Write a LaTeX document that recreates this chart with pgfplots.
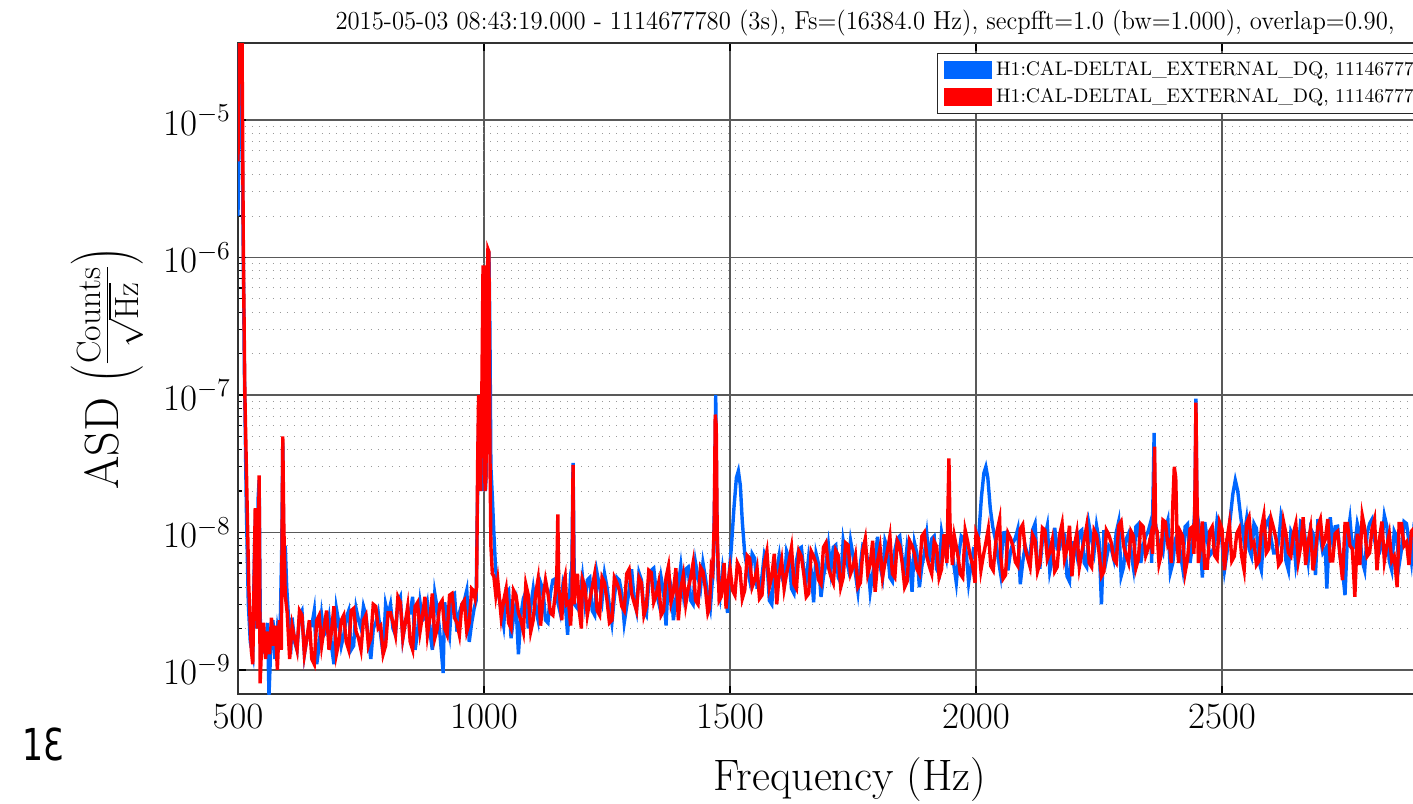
\RequirePackage{fix-cm}
\documentclass[border=0pt]{standalone}
\usepackage{fontspec}
\usepackage{graphicx}
\usepackage{pgfplots}
\pgfplotsset{compat=1.18}
\newfontfamily\djv{DejaVu Sans}
\definecolor{asdblue}{RGB}{0,102,255}
\definecolor{asdred}{RGB}{255,0,0}

\begin{document}
\begin{tikzpicture}
% the reference is a crop of a wider figure: cut the picture to its frame
\path[use as bounding box, clip] (-119pt,-54.5pt) rectangle (587.5pt,347pt);
\begin{axis}[
    scale only axis,
    width=615pt, height=325.5pt,
    xmin=500, xmax=3000,
    ymode=log, ymin=6.68e-10, ymax=3.63e-5,
    xtick={500,1000,...,3000},
    ytick={1e-9,1e-8,1e-7,1e-6,1e-5},
    /pgf/number format/1000 sep={},
    scaled x ticks=false,
    grid=both,
    major grid style={black!65, line width=0.6pt},
    minor grid style={gray!80, line width=0.5pt, dash pattern=on 0.5pt off 3pt},
    axis line style={black!80, line width=0.9pt},
    major tick length=4pt, minor tick length=2pt,
    tick style={black, line width=0.6pt},
    tick label style={font=\fontsize{18.5}{22}\selectfont},
    xticklabel style={yshift=-2pt},
    title={\resizebox{529.5pt}{\height}{2015-05-03 08:43:19.000 - 1114677780 (3s), Fs=(16384.0 Hz), secpfft=1.0 (bw=1.000), overlap=0.90,}},
    title style={at={(axis description cs:0.5098,1.0215)}, anchor=base, yshift=-6pt,
        inner sep=0pt, font=\fontsize{13}{15}\selectfont},
    xlabel={Frequency (Hz)},
    ylabel={ASD $\left(\frac{\mathrm{Counts}}{\sqrt{\mathrm{Hz}}}\right)$},
    xlabel style={at={(axis description cs:0.4976,-0.1475)}, anchor=base,
        font=\fontsize{22}{26}\selectfont},
    ylabel style={at={(axis description cs:-0.1065,0.5)}, anchor=center,
        font=\fontsize{24}{28}\selectfont},
    legend style={at={(axis description cs:0.5683,0.9846)}, anchor=north west,
        draw=black!85, line width=0.6pt, fill=white,
        font=\fontsize{9.8}{11}\selectfont,
        inner xsep=3pt, inner ysep=2pt, row sep=1pt},
    legend cell align=left,
    legend image code/.code={\fill (0pt,-3.75pt) rectangle (22.5pt,3.75pt);},
]
\addplot[color=asdblue, line width=1.7pt] coordinates {
(500,2e-6)(503,4e-5)(507,4e-5)(510,2e-6)(513,1.5e-7)(517,1.5e-8)(521,3e-9)(525,1.6e-9)
(530,1.3e-9)(534,9e-9)(536,1.4e-8)(538,2e-9)(541,1.8e-8)(543,2.4e-8)(546,1.2e-9)(550,1.9e-9)
(555,1.3e-9)(560,2.2e-9)(563,6.5e-10)(567,1.6e-9)(571,2.3e-9)(575,1.2e-9)(580,2.0e-9)(585,1.5e-9)
(589,8e-9)(591,4.5e-8)(593,6e-9)(596,8e-9)(599,4e-9)(603,2.3e-9)(607,1.3e-9)
(610,2.4e-9)(615,1.6e-9)(620,1.4e-9)(625,2.5e-9)(630,2.7e-9)(635,1.3e-9)(640,1.7e-9)(645,2.1e-9)(650,2.1e-9)(655,2.7e-9)
(660,1.1e-9)(665,1.5e-9)(670,2.5e-9)(675,1.8e-9)(680,1.9e-9)(685,2.4e-9)(690,1.5e-9)(695,1.1e-9)(700,2.8e-9)(705,2.2e-9)
(710,1.5e-9)(715,1.8e-9)(720,2.4e-9)(725,2.7e-9)(730,1.4e-9)(735,1.5e-9)(740,2.8e-9)(745,2.3e-9)(750,2.0e-9)(755,2.9e-9)
(760,2.5e-9)(765,1.7e-9)(770,1.2e-9)(775,2.0e-9)(780,2.2e-9)(785,2.6e-9)(790,1.8e-9)(795,1.3e-9)(800,3.0e-9)
(805,2.5e-9)(810,3.0e-9)(815,2.0e-9)(820,1.8e-9)(825,3.1e-9)(830,3.4e-9)(835,1.7e-9)(840,2.2e-9)(845,2.6e-9)(850,2.6e-9)
(855,3.4e-9)(860,1.4e-9)(865,1.9e-9)(870,3.1e-9)(875,2.3e-9)(880,2.4e-9)(885,3.0e-9)(890,1.9e-9)(895,1.4e-9)(900,3.6e-9)
(905,2.8e-9)(910,1.9e-9)(917,9.5e-10)(920,3.1e-9)(925,2.3e-9)(930,1.8e-9)(935,3.5e-9)(940,3.6e-9)(945,1.9e-9)(950,2.6e-9)
(955,3.0e-9)(960,3.2e-9)(965,3.8e-9)(970,1.6e-9)(975,2.2e-9)(980,2.8e-9)
(984,3.2e-9)(987,2e-8)(990,1e-7)(993,3e-8)(996,2e-8)(999,6e-7)(1001,8e-7)(1003,2e-8)(1005,3e-8)(1008,8e-7)
(1010,1.1e-6)(1012,3e-7)(1014,3e-8)(1017,1.8e-8)(1020,1e-8)(1023,6e-9)(1026,4.2e-9)
(1030,3.5e-9)(1035,2.7e-9)(1040,2.1e-9)(1045,3.6e-9)(1050,3.8e-9)(1055,1.7e-9)(1060,2.4e-9)(1065,3.0e-9)(1070,1.3e-9)(1075,2.5e-9)
(1080,3.3e-9)(1085,3.7e-9)(1090,2.0e-9)(1095,2.9e-9)(1100,3.9e-9)
(1105,2.8e-9)(1110,2.3e-9)(1115,4.3e-9)(1120,3.8e-9)(1125,2.3e-9)(1130,2.2e-9)(1135,3.6e-9)(1140,4.5e-9)(1145,4.6e-9)(1150,3.1e-9)
(1155,2.6e-9)(1160,4.0e-9)(1165,3.1e-9)(1170,1.8e-9)(1175,4.1e-9)(1178,3.5e-9)(1181,3.2e-8)(1184,3.0e-9)(1190,2.8e-9)(1195,3.5e-9)(1200,4.8e-9)
(1205,3.1e-9)(1210,4.5e-9)(1215,4.7e-9)(1220,2.7e-9)(1225,2.5e-9)(1230,5.0e-9)(1235,4.0e-9)(1240,3.2e-9)(1245,5.0e-9)(1250,4.0e-9)
(1255,2.9e-9)(1260,2.2e-9)(1265,3.4e-9)(1270,4.7e-9)(1275,4.5e-9)(1280,3.6e-9)(1285,2.2e-9)(1290,2.9e-9)(1295,3.8e-9)(1300,5.4e-9)
(1305,3.3e-9)(1310,2.7e-9)(1315,5.1e-9)(1320,4.5e-9)(1325,2.7e-9)(1330,2.5e-9)(1335,4.3e-9)(1340,5.3e-9)(1345,5.5e-9)(1350,3.7e-9)
(1355,3.1e-9)(1360,4.7e-9)(1365,3.7e-9)(1370,2.1e-9)(1375,4.9e-9)(1380,4.1e-9)(1385,2.3e-9)(1390,3.3e-9)(1395,4.1e-9)(1400,5.7e-9)
(1405,3.7e-9)(1410,5.4e-9)(1415,5.6e-9)(1420,3.2e-9)(1425,3.0e-9)(1430,6.0e-9)(1435,4.7e-9)(1440,3.9e-9)(1445,6.0e-9)(1450,4.7e-9)
(1455,3.4e-9)(1460,2.8e-9)(1466,5.5e-9)(1469,2.2e-8)(1471,1e-7)(1473,1.5e-8)(1476,4.5e-9)(1480,3.5e-9)(1485,5.4e-9)(1490,4.0e-9)
(1495,2.6e-9)(1498,4.8e-9)
(1503,8e-9)(1508,1.5e-8)(1513,2.5e-8)(1517,2.8e-8)(1521,2.2e-8)(1525,1.2e-8)(1530,7e-9)(1535,5.5e-9)(1540,4.5e-9)(1545,7.0e-9)
(1550,6.5e-9)(1555,4.0e-9)(1560,4.0e-9)(1565,4.8e-9)(1570,7.0e-9)(1575,6.3e-9)(1580,3.2e-9)(1585,3.0e-9)(1590,5.5e-9)(1595,5.3e-9)(1600,6.8e-9)
(1605,4.8e-9)(1610,4.2e-9)(1615,7.3e-9)(1620,6.5e-9)(1625,3.9e-9)(1630,3.6e-9)(1635,6.2e-9)(1640,7.6e-9)(1645,7.8e-9)(1650,5.3e-9)
(1655,4.5e-9)(1660,6.7e-9)(1665,5.3e-9)(1670,3.1e-9)(1675,7.0e-9)(1680,5.9e-9)(1685,3.4e-9)(1690,4.8e-9)(1695,5.9e-9)(1700,8.1e-9)
(1705,5.3e-9)(1710,7.8e-9)(1715,8.1e-9)(1720,4.7e-9)(1725,4.3e-9)(1730,8.7e-9)(1735,6.8e-9)(1740,5.6e-9)(1745,8.7e-9)(1750,6.8e-9)
(1755,5.0e-9)(1760,3.7e-9)(1765,5.9e-9)(1770,8.1e-9)(1775,7.8e-9)(1780,6.2e-9)(1785,3.7e-9)(1790,5.0e-9)(1795,6.5e-9)(1800,9.3e-9)
(1805,5.7e-9)(1810,4.7e-9)(1815,8.7e-9)(1820,7.7e-9)(1825,4.7e-9)(1830,4.4e-9)(1835,7.4e-9)(1840,9.0e-9)(1845,9.4e-9)(1850,6.4e-9)
(1855,5.4e-9)(1860,8.0e-9)(1865,6.4e-9)(1870,3.7e-9)(1875,8.4e-9)(1880,7.0e-9)(1885,4.0e-9)(1890,5.7e-9)(1895,7.0e-9)(1900,9.7e-9)
(1905,6.1e-9)(1910,9.0e-9)(1915,9.4e-9)(1920,5.4e-9)(1925,5.0e-9)(1930,1.0e-8)(1935,7.9e-9)(1940,6.5e-9)(1945,1.0e-8)(1950,7.9e-9)
(1955,5.8e-9)(1960,4.3e-9)(1965,6.8e-9)(1970,9.4e-9)(1975,9.0e-9)(1980,7.2e-9)(1985,4.3e-9)(1990,5.8e-9)(1995,7.6e-9)(2000,7.5e-9)
(2006,1.0e-8)(2011,1.8e-8)(2016,2.7e-8)(2020,3.0e-8)(2024,2.5e-8)(2029,1.5e-8)(2034,1.1e-8)(2040,8.7e-9)(2045,6.5e-9)(2050,5.0e-9)
(2055,9.9e-9)(2060,1.0e-8)(2065,5.3e-9)(2070,7.2e-9)(2075,8.4e-9)(2080,9.1e-9)(2085,1.06e-8)(2090,4.2e-9)(2095,6.1e-9)(2100,8.0e-9)
(2105,6.8e-9)(2110,6.8e-9)(2115,1.04e-8)(2120,1.16e-8)(2125,5.6e-9)(2130,5.6e-9)(2135,8.8e-9)(2140,9.2e-9)(2145,1.12e-8)(2150,5.2e-9)
(2155,6.4e-9)(2160,1.08e-8)(2165,7.6e-9)(2170,7.6e-9)(2175,1.0e-8)(2180,9.6e-9)(2185,4.8e-9)(2190,4.4e-9)(2195,8.4e-9)(2200,8.4e-9)
(2205,6.8e-9)(2210,1.0e-8)(2215,1.04e-8)(2220,6.0e-9)(2225,5.6e-9)(2230,1.12e-8)(2235,8.8e-9)(2240,7.2e-9)(2245,1.12e-8)(2250,8.8e-9)
(2255,3.0e-9)(2260,1.04e-8)(2265,6.4e-9)(2270,8.0e-9)(2275,7.6e-9)(2280,6.4e-9)(2285,1.0e-8)(2290,1.2e-8)(2295,4.8e-9)(2300,5.6e-9)
(2305,8.9e-9)(2310,9.8e-9)(2315,7.2e-9)(2320,5.5e-9)(2325,1.1e-8)(2330,1.15e-8)(2335,6.0e-9)(2340,8.1e-9)(2345,9.4e-9)(2350,1.02e-8)
(2355,1.19e-8)(2357,6e-9)(2360,2.0e-8)(2362,5.3e-8)(2364,1.2e-8)(2370,8.9e-9)(2375,8.1e-9)(2380,7.2e-9)(2385,1.06e-8)(2390,1.23e-8)
(2395,5.1e-9)(2400,6.0e-9)
(2405,8.9e-9)(2410,9.8e-9)(2415,7.2e-9)(2420,5.5e-9)(2425,1.1e-8)(2430,1.15e-8)(2435,6.0e-9)(2440,8.1e-9)(2445,1.5e-8)(2447,9.4e-8)
(2449,1.4e-8)(2455,1.02e-8)(2460,4.7e-9)(2465,1.19e-8)(2470,8.9e-9)(2475,6.8e-9)(2480,7.2e-9)(2485,8.1e-9)(2490,1.23e-8)(2495,1.06e-8)(2500,8.5e-9)
(2505,5.3e-9)(2510,7.0e-9)(2516,1.2e-8)(2522,1.9e-8)(2527,2.4e-8)(2532,2.0e-8)(2538,1.3e-8)(2544,9e-9)
(2550,1.25e-8)(2555,7.6e-9)(2560,6.7e-9)(2565,1.16e-8)(2570,1.07e-8)(2575,6.2e-9)(2580,5.3e-9)(2585,9.8e-9)(2590,1.16e-8)(2595,1.25e-8)(2600,8.9e-9)
(2605,7.1e-9)(2610,7.1e-9)(2615,8.5e-9)(2620,1.33e-8)(2625,1.11e-8)(2630,6.2e-9)(2635,5.3e-9)(2640,1.02e-8)(2645,9.3e-9)(2650,5.8e-9)
(2655,7.6e-9)(2660,1.2e-8)(2665,1.16e-8)(2670,8.5e-9)(2675,6.2e-9)(2680,1.07e-8)(2685,9.8e-9)(2690,4.9e-9)(2695,1.25e-8)(2700,9.3e-9)
(2705,7.1e-9)(2710,7.6e-9)(2713,3.9e-9)(2720,1.29e-8)(2725,8.5e-9)(2730,1.1e-8)(2735,1.11e-8)(2740,6.7e-9)(2745,5.3e-9)(2750,3.5e-9)
(2755,9.3e-9)(2760,1.25e-8)(2765,7.6e-9)(2770,8.0e-9)(2775,1.16e-8)(2780,9.8e-9)(2785,6.2e-9)(2790,5.3e-9)(2795,9.8e-9)(2800,1.16e-8)
(2805,1.25e-8)(2810,8.9e-9)(2815,7.1e-9)(2820,7.1e-9)(2825,8.5e-9)(2830,1.33e-8)(2835,1.11e-8)(2840,6.2e-9)(2845,5.3e-9)(2850,1.02e-8)
(2855,9.3e-9)(2860,5.8e-9)(2865,7.6e-9)(2870,1.2e-8)(2875,1.16e-8)(2880,8.5e-9)(2885,6.2e-9)(2890,1.07e-8)(2895,9.8e-9)(2900,8e-9)
};
\addlegendentry{H1:CAL-DELTAL\_EXTERNAL\_DQ, 1114677780}
\addplot[color=asdred, line width=1.7pt] coordinates {
(500,5e-6)(502,5e-5)(508,5e-5)(511,1e-6)(514,1e-7)(518,2e-8)(522,4e-9)(527,1.4e-9)
(530,1.1e-9)(533,5e-9)(535,1.5e-8)(537,3e-9)(540,2e-9)(543,2.6e-8)(545,8e-10)(548,1.5e-9)
(552,2.2e-9)(556,1.2e-9)(560,1.9e-9)(564,1.3e-9)(568,2.4e-9)(572,1.5e-9)(576,2.1e-9)(580,1.0e-9)
(584,2.3e-9)(588,1.4e-9)(590,1.5e-8)(591,5e-8)(593,1.2e-8)(596,3.5e-9)(600,2.6e-9)
(605,1.2e-9)(610,2.1e-9)(615,1.7e-9)(620,1.4e-9)(625,2.7e-9)(630,2.5e-9)(635,1.3e-9)(640,1.7e-9)(645,2.3e-9)(650,1.2e-9)
(655,1.1e-9)(660,2.3e-9)(665,2.5e-9)(670,1.5e-9)(675,2.0e-9)(680,2.7e-9)(685,1.4e-9)(690,1.9e-9)(695,2.9e-9)(700,1.3e-9)(705,1.6e-9)
(710,2.3e-9)(715,2.5e-9)(720,1.6e-9)(725,1.4e-9)(730,2.7e-9)(735,2.8e-9)(740,1.9e-9)(745,1.7e-9)(750,1.4e-9)(755,2.3e-9)
(760,2.5e-9)(765,1.5e-9)(770,1.7e-9)(775,3.0e-9)(780,2.9e-9)(785,2.0e-9)(790,2.1e-9)(795,1.3e-9)(800,1.5e-9)(805,2.6e-9)
(810,2.6e-9)(815,2.2e-9)(820,1.8e-9)(825,3.4e-9)(830,3.1e-9)(835,1.7e-9)(840,2.2e-9)(845,2.9e-9)(850,1.6e-9)(855,1.4e-9)
(860,2.9e-9)(865,3.1e-9)(870,1.9e-9)(875,2.5e-9)(880,3.4e-9)(885,1.8e-9)(890,2.4e-9)(895,3.6e-9)(900,1.7e-9)(905,2.0e-9)
(910,3.0e-9)(915,3.2e-9)(920,2.0e-9)(925,1.8e-9)(930,3.5e-9)(935,3.6e-9)(940,2.4e-9)(945,2.2e-9)(950,1.8e-9)(955,3.0e-9)
(960,3.2e-9)(965,1.9e-9)(970,2.2e-9)(975,3.9e-9)(978,3.8e-9)(982,3.3e-9)
(985,4e-9)(987,3e-8)(989,1e-7)(991,9e-8)(993,2e-8)(995,6e-8)(998,8.5e-7)(1000,8.5e-7)(1002,2e-8)(1004,2.5e-8)
(1006,5e-7)(1008,1.15e-6)(1010,1.1e-6)(1012,4e-8)(1014,8e-9)(1017,5e-9)(1020,4.8e-9)(1024,3.5e-9)
(1028,4.5e-9)(1035,2.4e-9)(1040,3.2e-9)(1045,3.9e-9)(1050,2.2e-9)(1055,2.0e-9)(1060,3.8e-9)(1065,3.5e-9)(1070,2.6e-9)(1075,2.3e-9)
(1080,1.9e-9)(1085,4.2e-9)(1090,3.5e-9)(1095,1.9e-9)(1100,2.3e-9)(1105,3.6e-9)
(1110,4.6e-9)(1115,2.1e-9)(1120,3.3e-9)(1125,4.5e-9)(1130,3.6e-9)(1135,2.6e-9)(1140,2.5e-9)(1145,3.6e-9)(1148,5e-9)(1150,1.35e-8)
(1152,4e-9)(1158,2.3e-9)(1162,4.3e-9)(1165,4.8e-9)(1168,3.0e-9)(1172,3.1e-9)(1176,2.1e-9)(1179,3.5e-9)(1181,3.1e-8)(1183,3.0e-9)
(1186,4.0e-9)(1190,5.0e-9)(1194,2.6e-9)(1198,2.0e-9)(1200,4.6e-9)(1205,4.1e-9)
(1210,2.5e-9)(1215,3.2e-9)(1220,4.0e-9)(1225,5.0e-9)(1230,2.7e-9)(1235,2.5e-9)(1240,4.7e-9)(1245,4.3e-9)(1250,3.2e-9)(1255,2.2e-9)
(1260,2.3e-9)(1265,4.7e-9)(1270,4.3e-9)(1275,3.8e-9)(1280,2.9e-9)(1285,2.7e-9)(1290,5.0e-9)(1295,5.4e-9)(1300,3.6e-9)(1305,3.1e-9)
(1310,2.7e-9)(1315,4.7e-9)(1320,4.3e-9)(1325,2.5e-9)(1330,2.9e-9)(1335,5.3e-9)(1340,5.1e-9)(1345,3.1e-9)(1350,3.5e-9)(1355,4.3e-9)
(1360,2.5e-9)(1365,2.7e-9)(1370,4.7e-9)(1375,5.7e-9)(1380,3.1e-9)(1385,3.7e-9)(1390,5.5e-9)(1395,2.3e-9)(1400,3.9e-9)(1405,4.9e-9)
(1410,3.0e-9)(1415,3.9e-9)(1420,4.7e-9)(1425,6.0e-9)(1430,3.2e-9)(1435,3.0e-9)(1440,5.6e-9)(1445,5.2e-9)(1450,3.9e-9)(1455,2.6e-9)
(1458,2.8e-9)(1462,5.6e-9)(1465,5.2e-9)(1468,1.2e-8)(1470,7.2e-8)(1472,6e-8)(1474,1e-8)(1478,3.2e-9)(1482,3.4e-9)(1485,4.5e-9)
(1488,6.0e-9)(1492,2.8e-9)(1496,4.3e-9)(1500,5.5e-9)
(1505,3.8e-9)(1510,3.5e-9)(1515,6.0e-9)(1520,5.5e-9)(1525,3.3e-9)(1530,3.8e-9)(1535,6.8e-9)(1540,6.5e-9)(1545,4.0e-9)(1550,4.5e-9)
(1555,5.5e-9)(1560,3.3e-9)(1565,3.5e-9)(1570,6.0e-9)(1575,7.3e-9)(1580,4.0e-9)(1585,4.8e-9)(1590,7.0e-9)(1595,3.0e-9)(1600,5.0e-9)(1605,6.3e-9)
(1610,3.9e-9)(1615,5.0e-9)(1620,6.2e-9)(1625,7.8e-9)(1630,4.2e-9)(1635,3.9e-9)(1640,7.3e-9)(1645,6.7e-9)(1650,5.0e-9)(1655,3.4e-9)
(1660,3.6e-9)(1665,7.3e-9)(1670,6.7e-9)(1675,5.9e-9)(1680,4.5e-9)(1685,4.2e-9)(1690,7.8e-9)(1695,8.4e-9)(1700,5.6e-9)(1705,4.8e-9)
(1710,4.3e-9)(1715,7.4e-9)(1720,6.8e-9)(1725,4.0e-9)(1730,4.7e-9)(1735,8.4e-9)(1740,8.1e-9)(1745,5.0e-9)(1750,5.6e-9)(1755,6.8e-9)
(1760,4.0e-9)(1765,4.3e-9)(1770,7.4e-9)(1775,9.0e-9)(1780,5.0e-9)(1785,5.9e-9)(1790,8.7e-9)(1795,3.7e-9)(1800,6.2e-9)(1805,7.8e-9)
(1810,4.7e-9)(1815,6.0e-9)(1820,7.4e-9)(1825,9.4e-9)(1830,5.0e-9)(1835,4.7e-9)(1840,8.7e-9)(1845,8.0e-9)(1850,6.0e-9)(1855,4.0e-9)
(1860,4.4e-9)(1865,8.7e-9)(1870,8.0e-9)(1875,7.0e-9)(1880,5.4e-9)(1885,5.0e-9)(1890,9.4e-9)(1895,1.0e-8)(1900,6.7e-9)(1905,5.7e-9)
(1910,5.0e-9)(1915,8.6e-9)(1920,7.9e-9)(1925,4.7e-9)(1930,5.4e-9)(1935,9.7e-9)(1941,6e-9)(1943,1.5e-8)(1945,3.45e-8)(1947,1.2e-8)
(1952,5.8e-9)(1956,9.4e-9)(1960,7.9e-9)(1964,6.5e-9)(1968,5.0e-9)(1973,4.7e-9)(1978,1.04e-8)(1983,8.6e-9)(1988,6.8e-9)(1993,5.8e-9)
(1998,4.3e-9)(2000,1.0e-8)(2005,9.0e-9)
(2010,5.3e-9)(2015,6.8e-9)(2020,8.4e-9)(2025,1.06e-8)(2030,5.7e-9)(2035,5.3e-9)(2042,9.9e-9)(2048,1.25e-8)(2050,6.8e-9)(2055,4.6e-9)
(2060,4.9e-9)(2065,9.9e-9)(2070,9.1e-9)(2075,8.0e-9)(2080,6.1e-9)(2085,5.7e-9)(2090,1.06e-8)(2095,1.14e-8)(2100,7.6e-9)(2105,6.5e-9)
(2110,5.6e-9)(2115,9.6e-9)(2120,8.8e-9)(2125,5.2e-9)(2130,6.0e-9)(2135,1.08e-8)(2140,1.04e-8)(2145,6.4e-9)(2150,7.2e-9)(2155,8.8e-9)
(2160,5.2e-9)(2165,5.6e-9)(2170,9.6e-9)(2175,1.16e-8)(2180,6.4e-9)(2185,7.6e-9)(2190,1.12e-8)(2195,4.8e-9)(2200,8.0e-9)(2205,1.0e-8)
(2210,5.6e-9)(2215,7.2e-9)(2220,8.8e-9)(2225,1.12e-8)(2230,6.0e-9)(2235,5.6e-9)(2240,1.04e-8)(2245,9.6e-9)(2250,7.2e-9)(2255,4.8e-9)
(2260,5.2e-9)(2265,1.04e-8)(2270,9.6e-9)(2275,8.4e-9)(2280,6.4e-9)(2285,6.0e-9)(2290,1.12e-8)(2295,1.2e-8)(2300,8.0e-9)(2305,6.8e-9)
(2310,6.0e-9)(2315,1.02e-8)(2320,9.4e-9)(2325,5.5e-9)(2330,6.4e-9)(2335,1.15e-8)(2340,1.1e-8)(2345,6.8e-9)(2350,7.7e-9)(2355,9.4e-9)
(2359,7e-9)(2361,1.5e-8)(2363,4.2e-8)(2365,1.1e-8)(2368,1.02e-8)(2372,5.9e-9)(2376,6.8e-9)(2380,1.23e-8)(2385,1.19e-8)(2390,8.1e-9)
(2393,8.5e-9)(2397,6e-9)(2400,1.6e-8)(2403,3e-8)(2406,2.5e-8)(2409,8e-9)(2412,6.0e-9)(2415,1.02e-8)(2420,9.4e-9)(2425,5.1e-9)
(2430,6.4e-9)(2435,1.06e-8)(2440,1.1e-8)(2443,7e-9)(2445,2e-8)(2447,8.8e-8)(2449,2e-8)(2452,6.0e-9)(2456,7.7e-9)(2460,1.2e-8)
(2465,5.5e-9)(2470,5.5e-9)(2475,1.02e-8)(2480,1.1e-8)(2485,6.8e-9)(2490,6.4e-9)(2495,1.19e-8)(2500,1.06e-8)
(2505,5.3e-9)(2510,8.9e-9)(2515,1.16e-8)(2520,6.2e-9)(2525,6.7e-9)(2530,9.8e-9)(2535,1.07e-8)(2540,6.7e-9)(2545,5.3e-9)(2550,1.16e-8)
(2555,1.29e-8)(2560,8.0e-9)(2565,8.5e-9)(2570,5.8e-9)(2575,6.2e-9)(2580,1.07e-8)(2585,1.33e-8)(2590,7.1e-9)(2595,7.6e-9)(2600,1.25e-8)
(2605,1.07e-8)(2610,8.9e-9)(2615,5.8e-9)(2620,6.2e-9)(2625,1.2e-8)(2630,9.8e-9)(2635,7.1e-9)(2640,6.7e-9)(2645,9.8e-9)(2650,1.16e-8)
(2655,6.2e-9)(2660,8.0e-9)(2665,1.29e-8)(2670,5.8e-9)(2675,8.5e-9)(2680,1.07e-8)(2685,5.3e-9)(2690,7.1e-9)(2695,1.11e-8)(2700,1.25e-8)
(2705,8.0e-9)(2710,8.9e-9)(2715,1.25e-8)(2720,6.2e-9)(2725,6.2e-9)(2730,9.8e-9)(2735,1.02e-8)(2740,6.7e-9)(2745,4.5e-9)(2750,1.16e-8)
(2755,1.16e-8)(2760,8.0e-9)(2765,7.6e-9)(2770,3.4e-9)(2775,9.8e-9)(2780,5.8e-9)(2785,1.33e-8)(2790,1.07e-8)(2795,6.7e-9)(2800,7.1e-9)
(2805,1.07e-8)(2810,1.25e-8)(2815,5.3e-9)(2820,8.9e-9)(2825,1.2e-8)(2830,6.2e-9)(2835,8.0e-9)(2840,9.8e-9)(2845,6.2e-9)(2850,6.7e-9)
(2856,4.0e-9)(2860,1.16e-8)(2865,1.16e-8)(2870,8.0e-9)(2875,8.5e-9)(2880,5.8e-9)(2885,1.02e-8)(2890,1.07e-8)(2895,7e-9)
};
\addlegendentry{H1:CAL-DELTAL\_EXTERNAL\_DQ, 1114677780}
\end{axis}
\node[anchor=base west, inner sep=0pt] at (-108pt,-33pt)
    {\scalebox{0.75}[1]{\djv\fontsize{22}{24}\selectfont 1Ɛ}};
\end{tikzpicture}
\end{document}
